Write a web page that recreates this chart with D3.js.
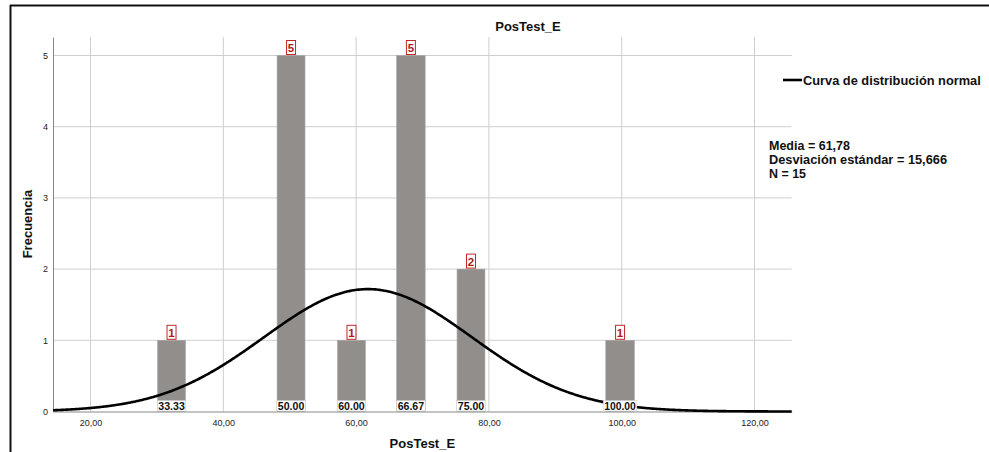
<!DOCTYPE html>
<html>
<head>
<meta charset="utf-8">
<script src="https://cdn.jsdelivr.net/npm/d3@7"></script>
<style>
  body { margin: 0; background: #fff; }
  svg { display: block; font-family: Arial, "Liberation Sans", sans-serif; }
</style>
</head>
<body>
<script>
'use strict';

// histogram bins
const binStart = [30.1, 48.1, 57.2, 66.1, 75.2, 97.6];
const binEnd = [34.3, 52.3, 61.4, 70.4, 79.4, 101.9];
const counts = [1, 5, 1, 5, 2, 1];
const valueLabels = ["33.33", "50.00", "60.00", "66.67", "75.00", "100.00"];

const xTicks = [20, 40, 60, 80, 100, 120];
const yTicks = [0, 1, 2, 3, 4, 5];

// stats shown in the legend
const mean = 61.78;
const sd = 15.666;
const n = 15;
const binWidth = 4.5;
const statLines = ["Media = 61,78", "Desviación estándar = 15,666", "N = 15"];

const width = 989, height = 452;

const svg = d3.select("body").append("svg")
  .attr("width", width)
  .attr("height", height);

// outer frame (only top and left edges show)
svg.append("line").attr("x1", 10).attr("x2", width).attr("y1", 5.5).attr("y2", 5.5)
  .attr("stroke", "#111").attr("stroke-width", 2);
svg.append("line").attr("x1", 10.5).attr("x2", 10.5).attr("y1", 5).attr("y2", height)
  .attr("stroke", "#111").attr("stroke-width", 2);

const xScale = d3.scaleLinear().domain([14.35, 125.6]).range([53, 791.7]);
const yScale = d3.scaleLinear().domain([0, 5.26]).range([411.5, 37]);

const fmt = d3.format(".2f");
const comma = (d) => fmt(d).replace(".", ",");

// vertical grid
svg.append("g")
  .selectAll("line")
  .data(xTicks)
  .enter()
  .append("line")
    .attr("x1", (d) => xScale(d)).attr("x2", (d) => xScale(d))
    .attr("y1", yScale.range()[1]).attr("y2", yScale(0))
    .attr("stroke", "#cfcfcf").attr("stroke-width", 1);

// horizontal grid
svg.append("g")
  .selectAll("line")
  .data(yTicks.filter((d) => d > 0))
  .enter()
  .append("line")
    .attr("x1", xScale.range()[0]).attr("x2", xScale.range()[1])
    .attr("y1", (d) => yScale(d)).attr("y2", (d) => yScale(d))
    .attr("stroke", "#cfcfcf").attr("stroke-width", 1);

// axes
const xAxis = svg.append("g")
  .attr("transform", `translate(0, ${yScale(0)})`)
  .call(d3.axisBottom(xScale).tickValues(xTicks).tickFormat(comma).tickSize(0).tickPadding(8));
const yAxis = svg.append("g")
  .attr("transform", `translate(${xScale.range()[0]}, 0)`)
  .call(d3.axisLeft(yScale).tickValues(yTicks).tickFormat(d3.format("d")).tickSize(0).tickPadding(5));

[xAxis, yAxis].forEach((g) => {
  g.select(".domain").attr("stroke", "#888").attr("stroke-width", 1);
  g.selectAll("text").attr("font-size", "9px").attr("fill", "#222")
    .attr("font-family", "Arial, 'Liberation Sans', sans-serif");
});

const bins = counts.map((c, i) => ({ x0: binStart[i], x1: binEnd[i], count: c, label: valueLabels[i] }));

// bars
svg.append("g")
  .selectAll("rect")
  .data(bins)
  .enter()
  .append("rect")
    .attr("x", (d) => xScale(d.x0))
    .attr("width", (d) => xScale(d.x1) - xScale(d.x0))
    .attr("y", (d) => yScale(d.count))
    .attr("height", (d) => yScale(0) - yScale(d.count))
    .attr("fill", "#928e8c")
    .attr("stroke", "#a9a6a4")
    .attr("stroke-width", 0.6);

// normal curve
const curveX = d3.range(xScale.domain()[0], xScale.domain()[1] + 0.01, 0.25);
const density = (x) => n * binWidth * Math.exp(-0.5 * Math.pow((x - mean) / sd, 2)) / (sd * Math.sqrt(2 * Math.PI));
const line = d3.line()
  .x((d) => xScale(d))
  .y((d) => yScale(density(d)))
  .curve(d3.curveBasis);

svg.append("path")
  .datum(curveX)
  .attr("d", line)
  .attr("fill", "none")
  .attr("stroke", "#000")
  .attr("stroke-width", 2.6);

// value labels at the foot of each bar (drawn over the curve)
const labelW = (d) => d.label.length * 5.1 + 1;
const valG = svg.append("g")
  .selectAll("g")
  .data(bins)
  .enter()
  .append("g")
    .attr("transform", (d) => `translate(${(xScale(d.x0) + xScale(d.x1)) / 2}, ${yScale(0)})`);
valG.append("rect")
  .attr("x", (d) => -labelW(d) / 2 - 1)
  .attr("y", -11)
  .attr("width", (d) => labelW(d) + 2)
  .attr("height", 10.5)
  .attr("fill", "#fff")
  .attr("stroke", "#c8c8c8")
  .attr("stroke-width", 0.5);
valG.append("text")
  .attr("text-anchor", "middle")
  .attr("y", -1.8)
  .attr("font-size", "11.5px")
  .attr("font-weight", "bold")
  .attr("fill", "#111")
  .attr("textLength", labelW)
  .attr("lengthAdjust", "spacingAndGlyphs")
  .text((d) => d.label);

// red count boxes above bars
const cntG = svg.append("g")
  .selectAll("g")
  .data(bins)
  .enter()
  .append("g")
    .attr("transform", (d) => `translate(${(xScale(d.x0) + xScale(d.x1)) / 2}, ${yScale(d.count)})`);
cntG.append("rect")
  .attr("x", -4.5).attr("y", -15)
  .attr("width", 9).attr("height", 14)
  .attr("fill", "#fff")
  .attr("stroke", "#c0282a")
  .attr("stroke-width", 1);
cntG.append("text")
  .attr("text-anchor", "middle")
  .attr("y", -3.5)
  .attr("font-size", "11.5px")
  .attr("font-weight", "bold")
  .attr("fill", "#b0181c")
  .text((d) => d.count);

// title and axis labels
svg.append("text")
  .attr("x", 528).attr("y", 31)
  .attr("text-anchor", "middle")
  .attr("font-size", "13px").attr("font-weight", "bold").attr("fill", "#111")
  .text("PosTest_E");

svg.append("text")
  .attr("x", (xScale.range()[0] + xScale.range()[1]) / 2).attr("y", 448)
  .attr("text-anchor", "middle")
  .attr("font-size", "13px").attr("font-weight", "bold").attr("fill", "#111")
  .text("PosTest_E");

svg.append("text")
  .attr("transform", "translate(32, 224) rotate(-90)")
  .attr("text-anchor", "middle")
  .attr("font-size", "13px").attr("font-weight", "bold").attr("fill", "#111")
  .text("Frecuencia");

// legend
svg.append("line")
  .attr("x1", 783).attr("x2", 802).attr("y1", 80).attr("y2", 80)
  .attr("stroke", "#000").attr("stroke-width", 2.6);
svg.append("text")
  .attr("x", 803).attr("y", 84.5)
  .attr("font-size", "12.8px").attr("font-weight", "bold").attr("fill", "#111")
  .text("Curva de distribución normal");

// stats block: widths stretched a little to match the reference
const statW = [81, 178, 37];
svg.append("g")
  .selectAll("text")
  .data(statLines)
  .enter()
  .append("text")
    .attr("x", 769)
    .attr("y", (d, i) => 150 + i * 13.8)
    .attr("font-size", "12px").attr("font-weight", "bold").attr("fill", "#111")
    .attr("textLength", (d, i) => statW[i])
    .attr("lengthAdjust", "spacingAndGlyphs")
    .text((d) => d);
</script>
</body>
</html>
